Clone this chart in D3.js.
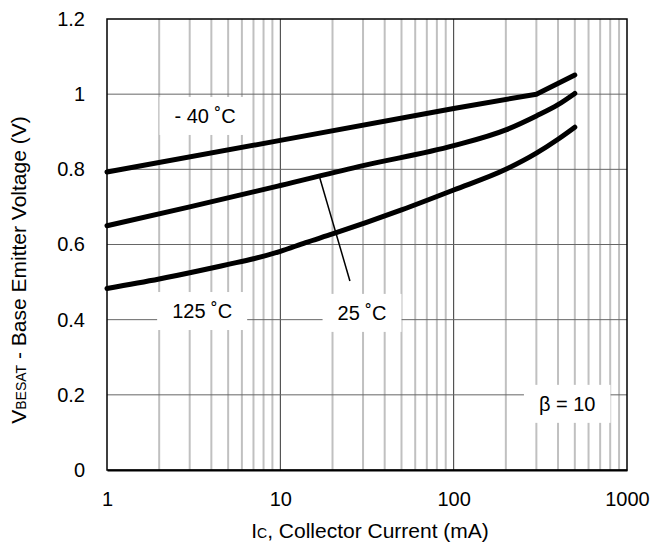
<!DOCTYPE html>
<html>
<head>
<meta charset="utf-8">
<script src="https://cdn.jsdelivr.net/npm/d3@7"></script>
<style>
  body { margin: 0; background: #fff; }
  text { font-family: "Liberation Sans", Arial, sans-serif; fill: #000; }
</style>
</head>
<body>
<div id="chart"></div>
<script>
// curve data: collector current (mA) -> V_BESAT (V)
const currentM40 = [1, 10, 100, 300, 500];
const voltsM40 = [0.793, 0.877, 0.962, 1.0, 1.051];

const current25 = [1, 3, 10, 30, 100, 200, 300, 400, 500];
const volts25 = [0.650, 0.700, 0.757, 0.810, 0.863, 0.905, 0.942, 0.972, 1.002];

const current125 = [1, 2, 3.4, 5, 7, 10, 14, 20, 50, 100, 200, 300, 400, 500];
const volts125 = [0.483, 0.508, 0.530, 0.547, 0.562, 0.582, 0.605, 0.628, 0.692, 0.745, 0.800, 0.843, 0.880, 0.912];

const xTicks = [1, 10, 100, 1000];
const yTicks = [0, 0.2, 0.4, 0.6, 0.8, 1, 1.2];

// labels: text, current, voltage
const labelText = ["- 40 \u02DAC", "125 \u02DAC", "25 \u02DAC", "\u03B2 = 10"];
const labelCurrent = [3.68, 3.54, 29.6, 452];
const labelVolts = [0.942, 0.423, 0.418, 0.176];

// leader line from the 25 C curve to its label
const leaderCurrent = [16.9, 25.2];
const leaderVolts = [0.777, 0.503];

const margin = {top: 19, right: 25, bottom: 76, left: 107};
const width = 652 - margin.left - margin.right;
const height = 546 - margin.top - margin.bottom;

const svg = d3.select("#chart")
  .append("svg")
    .attr("width", 652)
    .attr("height", 546)
  .append("g")
    .attr("transform", "translate(" + margin.left + "," + margin.top + ")");

const x = d3.scaleLog()
  .domain([1, 1000])
  .range([0, width]);

const y = d3.scaleLinear()
  .domain([0, 1.2])
  .range([height, 0]);

// minor vertical grid
const minor = [];
[1, 10, 100].forEach(d => { for (let k = 2; k <= 9; k++) minor.push(d * k); });
svg.append("g")
  .selectAll("line")
  .data(minor)
  .enter()
  .append("line")
    .attr("x1", d => x(d))
    .attr("x2", d => x(d))
    .attr("y1", 0)
    .attr("y2", height)
    .attr("stroke", "#c0c0c0")
    .attr("stroke-width", 2);

// major grid
svg.append("g")
  .selectAll("line")
  .data([10, 100])
  .enter()
  .append("line")
    .attr("x1", d => x(d))
    .attr("x2", d => x(d))
    .attr("y1", 0)
    .attr("y2", height)
    .attr("stroke", "#333")
    .attr("stroke-width", 1);

svg.append("g")
  .selectAll("line")
  .data(yTicks.filter(d => d > 0 && d < 1.2))
  .enter()
  .append("line")
    .attr("x1", 0)
    .attr("x2", width)
    .attr("y1", d => y(d))
    .attr("y2", d => y(d))
    .attr("stroke", "#666")
    .attr("stroke-width", 1);

// labels with white boxes
const labels = svg.append("g")
  .selectAll("g")
  .data(labelText.map((t, i) => ({t: t, c: labelCurrent[i], v: labelVolts[i]})))
  .enter()
  .append("g");

labels.append("rect").attr("fill", "#fff");
labels.append("text")
  .attr("x", d => x(d.c))
  .attr("y", d => y(d.v))
  .attr("text-anchor", "middle")
  .attr("dominant-baseline", "central")
  .style("font-size", "20px")
  .text(d => d.t);
labels.each(function () {
  const g = d3.select(this);
  const b = g.select("text").node().getBBox();
  g.select("rect")
    .attr("x", b.x - 15)
    .attr("y", b.y - 8)
    .attr("width", b.width + 30)
    .attr("height", b.height + 16);
});

// curves
const line = d3.line()
  .x(d => x(d[0]))
  .y(d => y(d[1]));

[[currentM40, voltsM40, d3.curveLinear], [current25, volts25, d3.curveMonotoneX], [current125, volts125, d3.curveMonotoneX]].forEach(s => {
  svg.append("path")
    .datum(s[0].map((c, i) => [c, s[1][i]]))
    .attr("fill", "none")
    .attr("stroke", "#000")
    .attr("stroke-width", 5)
    .attr("stroke-linecap", "round")
    .attr("stroke-linejoin", "round")
    .attr("d", line.curve(s[2]));
});

svg.append("line")
  .attr("x1", x(leaderCurrent[0]))
  .attr("y1", y(leaderVolts[0]))
  .attr("x2", x(leaderCurrent[1]))
  .attr("y2", y(leaderVolts[1]))
  .attr("stroke", "#000")
  .attr("stroke-width", 1.5);

// frame
svg.append("rect")
  .attr("width", width)
  .attr("height", height)
  .attr("fill", "none")
  .attr("stroke", "#000")
  .attr("stroke-width", 1.5);

// axes
svg.append("g")
  .attr("transform", "translate(0," + height + ")")
  .call(d3.axisBottom(x).tickValues(xTicks).tickFormat(d3.format("d")).tickSize(0).tickPadding(22))
  .call(g => g.select(".domain").attr("stroke-width", 2))
  .call(g => g.selectAll("text").style("font-size", "20px"));

svg.append("g")
  .call(d3.axisLeft(y).tickValues(yTicks).tickFormat(d => d3.format("")(+d.toFixed(1))).tickSize(0).tickPadding(22))
  .call(g => g.select(".domain").remove())
  .call(g => g.selectAll("text").style("font-size", "20px"));

// axis titles
const xTitle = svg.append("text")
  .attr("x", 263)
  .attr("y", height + 68)
  .attr("text-anchor", "middle")
  .style("font-size", "21px");
xTitle.append("tspan").text("I");
xTitle.append("tspan").style("font-size", "14px").text("C");
xTitle.append("tspan").text(", Collector Current (mA)");

const yTitle = svg.append("text")
  .attr("transform", "translate(" + (-81) + "," + 251 + ") rotate(-90)")
  .attr("text-anchor", "middle")
  .style("font-size", "21px");
yTitle.append("tspan").text("V");
yTitle.append("tspan").style("font-size", "14px").text("BESAT");
yTitle.append("tspan").text(" - Base Emitter Voltage (V)");
</script>
</body>
</html>
